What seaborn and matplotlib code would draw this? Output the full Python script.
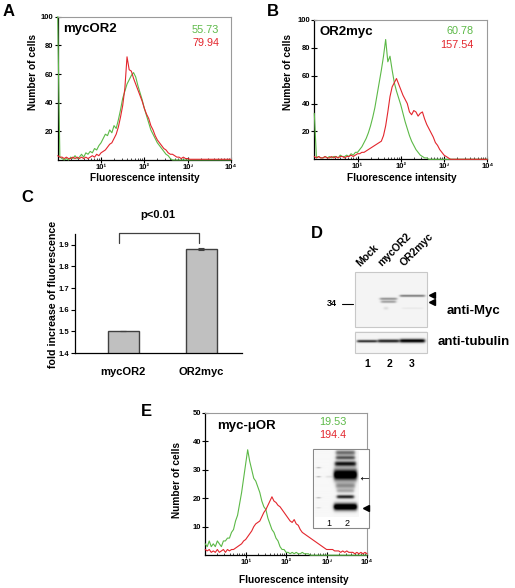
import numpy as np
import pandas as pd
import seaborn as sns
import matplotlib.pyplot as plt
from matplotlib.patches import Rectangle
from matplotlib.ticker import LogLocator, NullFormatter

# ==============================
# DATA
# ==============================
# FACS channel grid (log10 of fluorescence), 0.05 decade bins
decades = np.round(np.arange(0, 4.001, 0.05), 2)

a_green = [100, 2, 1, 0, 1, 0, 2, 1, 3, 1,
           2, 4, 2, 5, 4, 6, 5, 8, 7, 10,
           12, 15, 18, 17, 21, 19, 24, 22, 28, 35,
           43, 48, 53, 56, 59, 61, 58, 52, 47, 42,
           36, 31, 26, 21, 18, 15, 12, 10, 8, 6,
           4, 3, 1, 0, 0, 0, 0, 0, 0, 0,
           0, 0, 0, 0, 0, 0, 0, 0, 0, 0,
           0, 0, 0, 0, 0, 0, 0, 0, 0, 0, 0]
a_red = [3, 2, 2, 1, 2, 1, 1, 2, 1, 2,
         1, 2, 1, 2, 1, 2, 3, 2, 4, 3,
         5, 6, 7, 9, 11, 12, 15, 18, 23, 30,
         38, 50, 72, 63, 62, 57, 53, 49, 45, 41,
         36, 32, 29, 24, 21, 17, 14, 12, 10, 8,
         7, 5, 4, 4, 3, 2, 2, 1, 2, 1,
         1, 0.5, 0.5, 0.5, 0.5, 0.5, 0.5, 0.5, 0.5, 0.5,
         0.5, 0.5, 0.5, 0.5, 0.5, 0.5, 0.5, 0.5, 0.5, 0.5, 0.5]

b_green = [33, 1, 2, 1, 1, 2, 1, 2, 1, 2,
           2, 1, 3, 2, 2, 3, 2, 4, 3, 5,
           5, 7, 9, 12, 15, 19, 24, 30, 37, 46,
           55, 64, 74, 86, 70, 74, 64, 55, 49, 44,
           39, 33, 27, 22, 17, 13, 10, 7, 5, 3,
           2, 1, 1, 0, 0, 0, 0, 0, 0, 0,
           0, 0, 0, 0, 0, 0, 0, 0, 0, 0,
           0, 0, 0, 0, 0, 0, 0, 0, 0, 0, 0]
b_red = [2, 1, 2, 1, 1, 2, 1, 1, 2, 1,
         2, 1, 2, 2, 1, 2, 2, 3, 2, 3,
         4, 4, 5, 5, 6, 7, 8, 9, 10, 11,
         12, 13, 17, 24, 34, 45, 52, 55, 58, 54,
         50, 46, 43, 40, 34, 32, 35, 34, 31, 33,
         34, 29, 25, 22, 19, 16, 12, 10, 7, 5,
         3, 2, 1, 0, 0, 0, 0, 0, 0, 0,
         0, 0, 0, 0, 0, 0, 0, 0, 0, 0, 0]

e_green = [4, 3, 5, 3, 4, 3, 5, 4, 3, 5,
           5, 6, 6, 8, 9, 12, 14, 18, 22, 27,
           32, 37, 33, 30, 27, 26, 24, 22, 19, 17,
           16, 13, 11, 9, 8, 6, 5, 3, 2, 2,
           1, 1, 0.5, 1, 0.5, 1, 0.5, 0.5, 1, 0.5,
           0.5, 0.5, 0, 0, 0, 0, 0, 0, 0, 0,
           0, 0, 0, 0, 0, 0, 0, 0, 0, 0,
           0, 0, 0, 0, 0, 0, 0, 0, 0, 0, 0]
e_red = [2, 1.5, 2, 1, 1.5, 1, 2, 1, 1.5, 2,
         1, 2, 1.5, 2, 2, 2.5, 3, 3.5, 4, 5,
         5.5, 6.5, 7.5, 8.5, 10, 11, 11.5, 12, 13.5, 15,
         16, 17.5, 19, 20.5, 19, 18.5, 17.5, 17, 16, 15,
         14, 13, 12, 11.5, 12.5, 11, 10.5, 9, 8, 7.5,
         7, 6.5, 6, 5.5, 5, 4.5, 4, 3.5, 3, 2.5,
         2, 2, 2, 2, 1.5, 1.5, 1.5, 1, 1.5, 1,
         1.5, 1, 1, 1, 0.5, 1, 0.5, 1, 0.5, 1, 0.5]

# mean fluorescence printed on the histograms
a_means = ['55.73', '79.94']
b_means = ['60.78', '157.54']
e_means = ['19.53', '194.4']

# panel C
constructs = ['mycOR2', 'OR2myc']
fold_increase = [1.50, 1.88]
fold_err = [0.0, 0.006]

lanes = ['Mock', 'mycOR2', 'OR2myc']

GREEN = '#5cb947'
RED = '#e3262d'

# ==============================
# FIGURE
# ==============================
sns.set_theme(style='white')
plt.rcParams['font.family'] = ['Liberation Sans', 'DejaVu Sans']
for key in ['text.color', 'axes.labelcolor', 'xtick.color', 'ytick.color']:
    plt.rcParams[key] = 'black'

W, H = 515, 588
fig = plt.figure(figsize=(W / 100, H / 100), dpi=100)


def px_axes(x0, y0, x1, y1):
    return fig.add_axes([x0 / W, 1 - y1 / H, (x1 - x0) / W, (y1 - y0) / H])


def hist_panel(ax, green, red, ymax, yticks):
    n = len(decades)
    df = pd.DataFrame({
        'x': np.concatenate([10 ** decades, 10 ** decades]),
        'y': np.concatenate([green, red]),
        'sample': ['ctrl'] * n + ['myc'] * n,
    })
    sns.lineplot(data=df, x='x', y='y', hue='sample', palette=[GREEN, RED],
                 lw=0.8, ax=ax, legend=False, estimator=None, sort=False,
                 zorder=3, clip_on=False)
    ax.set_xscale('log')
    ax.set_xlim(1, 1e4)
    ax.set_ylim(0, ymax)
    ax.set_xticks([10, 100, 1000, 10000])
    ax.set_xticklabels(['10¹', '10²', '10³', '10⁴'])
    ax.xaxis.set_minor_locator(LogLocator(subs=np.arange(2, 10)))
    ax.xaxis.set_minor_formatter(NullFormatter())
    ax.set_yticks(yticks)
    ax.set_xlabel('')
    ax.set_ylabel('')
    ax.tick_params(axis='x', which='major', bottom=True, direction='inout',
                   length=4, width=0.8, labelsize=5.5, pad=1)
    ax.tick_params(axis='x', which='minor', bottom=True, direction='in',
                   length=1.5, width=0.5)
    ax.tick_params(axis='y', left=True, direction='inout', length=4,
                   width=0.8, labelsize=5.5, pad=1)
    for lbl in ax.get_xticklabels() + ax.get_yticklabels():
        lbl.set_fontweight('bold')
    for s in ['top', 'right']:
        ax.spines[s].set_color('#9a9a9a')
        ax.spines[s].set_linewidth(0.8)
    for s in ['left', 'bottom']:
        ax.spines[s].set_color('black')
        ax.spines[s].set_linewidth(0.9)


ax_a = px_axes(57.7, 16.7, 231, 160)
hist_panel(ax_a, a_green, a_red, 100, [20, 40, 60, 80, 100])

ax_b = px_axes(314.3, 20, 487.3, 159.3)
hist_panel(ax_b, b_green, b_red, 100, [20, 40, 60, 80, 100])

ax_e = px_axes(205.2, 412.7, 367, 555.2)
hist_panel(ax_e, e_green, e_red, 50, [10, 20, 30, 40, 50])

# panel C bar chart
ax_c = px_axes(75, 234, 242, 353)
sns.barplot(x=constructs, y=fold_increase, color='#c0c0c0', width=0.4,
            edgecolor='#404040', linewidth=1, saturation=1, ax=ax_c)
ax_c.errorbar(range(len(constructs)), fold_increase, yerr=fold_err, fmt='none',
              ecolor='#404040', elinewidth=0.8, capsize=2, capthick=0.8)
ax_c.set_ylim(1.4, 1.95)
ax_c.set_xlim(-0.62, 1.52)
ax_c.set_yticks([1.4, 1.5, 1.6, 1.7, 1.8, 1.9])
ax_c.set_yticklabels(['1.4', '1.5', '1.6', '1.7', '1.8', '1.9'])
ax_c.tick_params(axis='y', left=True, direction='out', length=3, width=0.8,
                 labelsize=5.5, pad=1)
ax_c.tick_params(axis='x', bottom=False, labelsize=8, pad=4)
for lbl in ax_c.get_xticklabels() + ax_c.get_yticklabels():
    lbl.set_fontweight('bold')
sns.despine(ax=ax_c)
for s in ['left', 'bottom']:
    ax_c.spines[s].set_color('black')
    ax_c.spines[s].set_linewidth(0.9)

# ==============================
# OVERLAY (labels, blots) in pixel coordinates
# ==============================
ov = fig.add_axes([0, 0, 1, 1], zorder=10)
ov.patch.set_alpha(0)


def txt(x, y, s, size, **kw):
    kw.setdefault('fontweight', 'bold')
    kw.setdefault('ha', 'center')
    kw.setdefault('va', 'center')
    kw.setdefault('color', 'black')
    ov.text(x, y, s, fontsize=size, **kw)


def blot(box, bands, bg=0.96, edge='#c8c8c8'):
    x0, y0, x1, y1 = box
    xs = np.linspace(x0, x1, int((x1 - x0) * 3))
    ys = np.linspace(y0, y1, int((y1 - y0) * 3))
    X, Y = np.meshgrid(xs, ys)
    dark = np.zeros_like(X)
    for bx0, bx1, by, th, amp in bands:
        fx = 1 / (1 + np.exp(-(X - bx0) / 0.8)) / (1 + np.exp((X - bx1) / 0.8))
        dark += amp * fx * np.exp(-((Y - by) / th) ** 2)
    img = bg - np.clip(dark, 0, bg)
    ov.imshow(img, extent=(x0, x1, y1, y0), cmap='gray', vmin=0, vmax=1,
              aspect='auto', interpolation='bilinear', zorder=2)
    ov.add_patch(Rectangle((x0, y0), x1 - x0, y1 - y0, fill=False,
                           ec=edge, lw=0.8, zorder=3))


# panel letters
for letter, x, y in [('A', 9, 12), ('B', 273, 12), ('C', 27.5, 198),
                     ('D', 316.5, 234), ('E', 146, 411)]:
    txt(x, y, letter, 12)

# histogram annotations
txt(63.3, 29, 'mycOR2', 9.5, ha='left')
txt(219.3, 30, a_means[0], 7.8, ha='right', color=GREEN, fontweight='normal')
txt(219.3, 43.5, a_means[1], 7.8, ha='right', color=RED, fontweight='normal')
txt(320, 31.5, 'OR2myc', 9.5, ha='left')
txt(473.3, 31, b_means[0], 7.8, ha='right', color=GREEN, fontweight='normal')
txt(473.3, 45.5, b_means[1], 7.8, ha='right', color=RED, fontweight='normal')
txt(216.7, 426.3, 'myc-μOR', 9.5, ha='left')
txt(346.7, 422, e_means[0], 7.8, ha='right', color=GREEN, fontweight='normal')
txt(346.7, 435, e_means[1], 7.8, ha='right', color=RED, fontweight='normal')

for x, y in [(33, 72.5), (288, 72.5), (176.7, 480)]:
    txt(x, y, 'Number of cells', 7.3, rotation=90)
for x, y in [(145, 178), (402, 178), (294, 580)]:
    txt(x, y, 'Fluorescence intensity', 7.3)

# panel C labels and bracket
txt(53, 294, 'fold increase of fluorescence', 7.7, rotation=90)
ov.plot([119, 119, 199, 199], [243, 233.3, 233.3, 243], color='#404040', lw=0.9)
txt(158, 215, 'p<0.01', 8)

# panel D western blot
blot((355, 271.7, 427, 326.7), [
    (380, 397, 298.5, 1.2, 0.40),
    (381, 396, 301.5, 1.2, 0.35),
    (384, 388, 308, 1.5, 0.12),
    (400, 425, 295.5, 1.1, 0.50),
    (402, 423, 308, 1.0, 0.05),
])
blot((355, 331.7, 427, 353.3), [
    (357, 377, 341.7, 1.3, 0.80),
    (378, 399, 341.5, 1.6, 0.85),
    (400, 425, 341.3, 1.9, 1.00),
])
for lx, name in zip([367.7, 389.3, 411.7], lanes):
    ov.text(lx - 6, 268, name, fontsize=7.5, fontweight='bold', rotation=45,
            rotation_mode='anchor', ha='left', va='bottom', color='black')
for lx, num in zip([367.7, 389.3, 411.7], ['1', '2', '3']):
    txt(lx, 364, num, 7.5)
txt(331.7, 303.7, '34', 6.5)
ov.plot([341.7, 353], [303.7, 303.7], color='black', lw=0.8)
ov.plot([431.5, 431.5], [295, 301.7], ls='none', marker='<', ms=5,
        color='black')
txt(446.7, 311, 'anti-Myc', 9.5, ha='left')
txt(437.7, 342, 'anti-tubulin', 9.5, ha='left')

# panel E inset blot
ov.add_patch(Rectangle((312.5, 449.3), 56, 78.4, fc='white', ec='#888888',
                       lw=0.8, zorder=1.5))
blot((314, 450.5, 359, 517), [
    (336, 355, 453, 2.5, 0.55),
    (336, 355, 458, 2.0, 0.65),
    (335, 356, 464, 2.5, 0.90),
    (334, 357, 475, 5.5, 1.30),
    (336, 355, 486, 3.0, 0.40),
    (337, 354, 491, 2.0, 0.30),
    (337, 354, 497, 1.8, 0.85),
    (334, 357, 507, 3.5, 1.30),
    (317, 320, 468, 0.5, 0.50),
    (317, 320, 477, 0.5, 0.50),
    (317, 320, 498, 0.5, 0.50),
    (317, 320, 508, 0.4, 0.30),
    (326, 332, 477, 1.0, 0.10),
], bg=0.97, edge='none')
txt(329.3, 523.3, '1', 6.5, fontweight='normal')
txt(347.3, 523.3, '2', 6.5, fontweight='normal')
txt(364, 477, '←', 10, fontweight='normal')
ov.plot([366], [507.7], ls='none', marker='<', ms=5, color='black')

ov.set_xlim(0, W)
ov.set_ylim(H, 0)
ov.axis('off')

plt.savefig('out.png', dpi=100)
